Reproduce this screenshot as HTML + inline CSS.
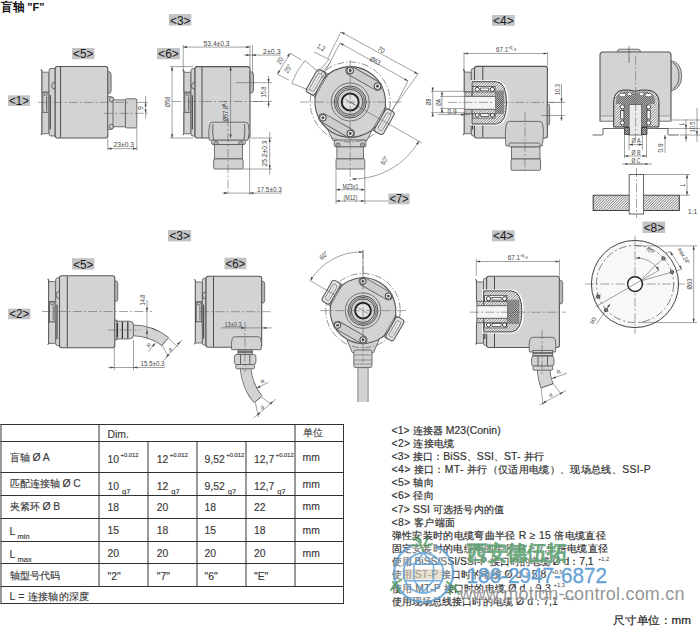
<!DOCTYPE html>
<html><head><meta charset="utf-8"><style>
html,body{margin:0;padding:0;background:#fff;width:700px;height:626px;overflow:hidden;position:relative}
</style></head><body>
<svg width="700" height="626" viewBox="0 0 700 626" style="position:absolute;left:0;top:0">
<style>
text{font-family:"Liberation Sans",sans-serif}
.b{fill:#d2d3d5;stroke:#555;stroke-width:1.1}
.g{fill:#d0d1d3;stroke:#5a5a5a;stroke-width:0.85}
.s{stroke:#555;stroke-width:0.9;fill:none}
.d{stroke:#555;stroke-width:0.55;fill:none}
.c{stroke:#666;stroke-width:0.6;stroke-dasharray:9 2.2 2 2.2;fill:none}
.h{fill:url(#hatch);stroke:#444;stroke-width:0.9}
.hd{fill:url(#hatchd);stroke:#333;stroke-width:0.8}
.w{fill:#eaeaea;stroke:#555;stroke-width:0.8}
</style>
<defs>
<pattern id="hatch" patternUnits="userSpaceOnUse" width="2.2" height="2.2">
<rect width="2.2" height="2.2" fill="#f4f4f4"/><path d="M-0.55,0.55 L0.55,-0.55 M0,2.2 L2.2,0 M1.65,2.75 L2.75,1.65" stroke="#606060" stroke-width="0.6"/></pattern>
<pattern id="hatchd" patternUnits="userSpaceOnUse" width="1.8" height="1.8">
<rect width="1.8" height="1.8" fill="#bdbdbd"/><path d="M-0.45,0.45 L0.45,-0.45 M0,1.8 L1.8,0 M1.35,2.25 L2.25,1.35" stroke="#3a3a3a" stroke-width="0.7"/></pattern>
</defs>
<text x="1" y="11" font-size="11.5" font-weight="bold" fill="#111" textLength="43.5" lengthAdjust="spacingAndGlyphs">盲轴 "F"</text>
<rect x="72" y="48" width="22.5" height="11.2" fill="#c2c3c5"/>
<text x="83.2" y="58.1" font-size="13.2" text-anchor="middle" fill="#1a1a1a" textLength="20.3" lengthAdjust="spacingAndGlyphs">&lt;5&gt;</text>
<rect x="8" y="95.3" width="22.0" height="10.7" fill="#c2c3c5"/>
<text x="19.0" y="104.9" font-size="13.2" text-anchor="middle" fill="#1a1a1a" textLength="19.8" lengthAdjust="spacingAndGlyphs">&lt;1&gt;</text>
<path d="M41,69.5 l1,1.5 V133.5 l-1,1.5" stroke="#444" stroke-width="1.1" fill="none"/>
<rect x="42" y="72.2" width="7" height="20.0" rx="1.2" class="g"/>
<rect x="42" y="112.3" width="7" height="21.4" rx="1.2" class="g"/>
<rect x="42.8" y="92.2" width="5.4" height="20.0" class="g"/>
<circle cx="45.5" cy="94.0" r="1.5" class="g"/>
<line x1="46.5" y1="96.5" x2="46.5" y2="110.8" stroke="#444" stroke-width="0.7"/>
<path d="M49,70.5 q0,-2 2,-2 h4.200000000000003 v67.5 h-4.200000000000003 q-2,0 -2,-2z" class="g"/>
<line x1="50.3" y1="95.1" x2="50.3" y2="129.4" stroke="#333" stroke-width="1"/>
<path d="M55.2,82.2 a3,3 0 0,0 0,7" class="s"/>
<path d="M55.2,68.7 q0,-2.2 2.2,-2.2 H105.6 q2.2,0 2.2,2.2 V135.8 q0,2.2 -2.2,2.2 H57.400000000000006 q-2.2,0 -2.2,-2.2Z" class="b"/>
<line x1="60.6" y1="67.0" x2="60.6" y2="137.5" stroke="#4a4a4a" stroke-width="1"/>
<path d="M107.8,71.6 h1.0 q2.3,0 2.3,3 v16.0 q0,3 -2.3,3 h-1.0z" fill="#b5b6b8" stroke="#555" stroke-width="0.8"/>
<path d="M107.8,96.7 h3 q3,0 3,3 v26.7 q0,3 -3,3 h-3z" class="g"/>
<circle cx="111.5" cy="99.5" r="2.2" class="g"/><circle cx="111.5" cy="126.5" r="2.2" class="g"/>
<rect x="113" y="99.9" width="12.4" height="26.9" class="g"/>
<rect x="125.4" y="98.8" width="11.4" height="29.1" rx="1.2" class="g"/>
<line x1="38.0" y1="102.4" x2="130.0" y2="102.4" class="c"/>
<line x1="104.0" y1="113.3" x2="147.7" y2="113.3" class="c"/>
<line x1="137.0" y1="102.4" x2="147.7" y2="102.4" class="d"/>
<line x1="145.6" y1="96.0" x2="145.6" y2="118.5" class="d"/>
<path d="M145.60,102.40 L146.70,106.20 L144.50,106.20Z" fill="#444"/>
<path d="M145.60,113.30 L144.50,109.50 L146.70,109.50Z" fill="#444"/>
<text x="142.5" y="108.0" font-size="7" text-anchor="middle" fill="#444" transform="rotate(-90 142.5 108.0)">9</text>
<line x1="107.8" y1="138.5" x2="107.8" y2="150.5" class="d"/>
<line x1="136.8" y1="128.0" x2="136.8" y2="150.5" class="d"/>
<line x1="107.8" y1="148.6" x2="136.8" y2="148.6" class="d"/>
<path d="M107.80,148.60 L111.60,147.50 L111.60,149.70Z" fill="#444"/>
<path d="M136.80,148.60 L133.00,149.70 L133.00,147.50Z" fill="#444"/>
<text x="123.8" y="147.4" font-size="7" text-anchor="middle" fill="#444" textLength="20.5" lengthAdjust="spacingAndGlyphs">23±0.3</text>
<rect x="157" y="48" width="23.0" height="11.3" fill="#c2c3c5"/>
<text x="168.5" y="58.2" font-size="13.2" text-anchor="middle" fill="#1a1a1a" textLength="20.8" lengthAdjust="spacingAndGlyphs">&lt;6&gt;</text>
<rect x="168.9" y="14.1" width="22.5" height="11.5" fill="#c2c3c5"/>
<text x="180.2" y="24.5" font-size="13.2" text-anchor="middle" fill="#1a1a1a" textLength="20.3" lengthAdjust="spacingAndGlyphs">&lt;3&gt;</text>
<path d="M183,69.6 l1,1.5 V133.5 l-1,1.5" stroke="#444" stroke-width="1.1" fill="none"/>
<rect x="184" y="72.3" width="7" height="20.0" rx="1.2" class="g"/>
<rect x="184" y="112.3" width="7" height="21.4" rx="1.2" class="g"/>
<rect x="184.8" y="92.3" width="5.4" height="20.0" class="g"/>
<circle cx="187.5" cy="94.1" r="1.5" class="g"/>
<line x1="188.5" y1="96.6" x2="188.5" y2="110.9" stroke="#444" stroke-width="0.7"/>
<path d="M191,70.6 q0,-2 2,-2 h2 v67.4 h-2 q-2,0 -2,-2z" class="g"/>
<line x1="192.3" y1="95.2" x2="192.3" y2="129.4" stroke="#333" stroke-width="1"/>
<path d="M195,82.3 a3,3 0 0,0 0,7" class="s"/>
<path d="M195,68.8 q0,-2.2 2.2,-2.2 H247.8 q2.2,0 2.2,2.2 V135.8 q0,2.2 -2.2,2.2 H197.2 q-2.2,0 -2.2,-2.2Z" class="b"/>
<line x1="202" y1="67.1" x2="202" y2="137.5" stroke="#4a4a4a" stroke-width="1"/>
<path d="M250,71.8 h1.2000000000000002 q2.3,0 2.3,3 v15.2 q0,3 -2.3,3 h-1.2000000000000002z" fill="#b5b6b8" stroke="#555" stroke-width="0.8"/>
<path d="M209.3,140.2 q-1.5,-9 0.5,-16 q0.5,-2 3,-2 h32.5 q2.5,0 3,2 q2,7 -0.3,16z" class="g"/>
<path d="M213,124 q-1,8 0.5,16 M244.5,124 q1,8 -0.5,16" class="s" stroke-width="0.6"/>
<rect x="211.5" y="140.2" width="33.8" height="4.3" rx="1.5" class="g"/>
<circle cx="216" cy="143.5" r="2.3" fill="#aaa" stroke="#555" stroke-width="0.7"/><circle cx="240.8" cy="143.5" r="2.3" fill="#aaa" stroke="#555" stroke-width="0.7"/>
<rect x="214.4" y="144.5" width="28" height="14.4" class="g"/>
<rect x="213.7" y="158.9" width="29.4" height="10.1" rx="1" class="g"/>
<line x1="172.0" y1="101.5" x2="262.0" y2="101.5" class="c"/>
<line x1="228.0" y1="118.0" x2="228.0" y2="195.0" class="c"/>
<line x1="183.2" y1="45.0" x2="183.2" y2="72.7" class="d"/>
<line x1="250.0" y1="45.0" x2="250.0" y2="67.0" class="d"/>
<line x1="252.5" y1="45.0" x2="252.5" y2="72.7" class="d"/>
<line x1="183.2" y1="47.1" x2="250.0" y2="47.1" class="d"/>
<path d="M183.20,47.10 L187.00,46.00 L187.00,48.20Z" fill="#444"/>
<path d="M250.00,47.10 L246.20,48.20 L246.20,46.00Z" fill="#444"/>
<text x="216.6" y="46.2" font-size="7" text-anchor="middle" fill="#444" textLength="26" lengthAdjust="spacingAndGlyphs">53.4±0.3</text>
<line x1="243.6" y1="55.1" x2="280.7" y2="55.1" class="d"/>
<path d="M250.00,55.10 L246.20,56.20 L246.20,54.00Z" fill="#444"/>
<path d="M252.00,55.10 L255.80,54.00 L255.80,56.20Z" fill="#444"/>
<text x="271.8" y="54.0" font-size="7" text-anchor="middle" fill="#444" textLength="17.5" lengthAdjust="spacingAndGlyphs">2±0.3</text>
<line x1="170.0" y1="66.6" x2="193.0" y2="66.6" class="d"/>
<line x1="170.0" y1="138.0" x2="193.0" y2="138.0" class="d"/>
<line x1="172.1" y1="66.6" x2="172.1" y2="138.0" class="d"/>
<path d="M172.10,66.60 L173.20,70.40 L171.00,70.40Z" fill="#444"/>
<path d="M172.10,138.00 L171.00,134.20 L173.20,134.20Z" fill="#444"/>
<text x="169.5" y="102.0" font-size="7" text-anchor="middle" fill="#444" textLength="10.5" lengthAdjust="spacingAndGlyphs" transform="rotate(-90 169.5 102.0)">Ø58</text>
<line x1="230.6" y1="66.6" x2="230.6" y2="138.0" class="d"/>
<path d="M230.60,66.60 L231.70,70.40 L229.50,70.40Z" fill="#444"/>
<path d="M230.60,138.00 L229.50,134.20 L231.70,134.20Z" fill="#444"/>
<text x="228.0" y="111.0" font-size="7" text-anchor="middle" fill="#444" textLength="21" lengthAdjust="spacingAndGlyphs" transform="rotate(-90 228.0 111.0)">Ø57.8⁰·¹</text>
<line x1="236.0" y1="82.7" x2="272.0" y2="82.7" class="d"/>
<line x1="254.0" y1="101.5" x2="272.0" y2="101.5" class="d"/>
<line x1="268.6" y1="76.0" x2="268.6" y2="108.0" class="d"/>
<path d="M268.60,82.70 L267.50,78.90 L269.70,78.90Z" fill="#444"/>
<path d="M268.60,101.50 L269.70,105.30 L267.50,105.30Z" fill="#444"/>
<text x="266.0" y="92.0" font-size="7" text-anchor="middle" fill="#444" textLength="11" lengthAdjust="spacingAndGlyphs" transform="rotate(-90 266.0 92.0)">15.8</text>
<line x1="249.6" y1="138.0" x2="272.0" y2="138.0" class="d"/>
<line x1="243.0" y1="169.0" x2="272.0" y2="169.0" class="d"/>
<line x1="269.7" y1="132.3" x2="269.7" y2="174.7" class="d"/>
<path d="M269.70,138.00 L270.80,141.80 L268.60,141.80Z" fill="#444"/>
<path d="M269.70,169.00 L268.60,165.20 L270.80,165.20Z" fill="#444"/>
<text x="267.0" y="153.5" font-size="7" text-anchor="middle" fill="#444" textLength="26" lengthAdjust="spacingAndGlyphs" transform="rotate(-90 267.0 153.5)">25.2±0.3</text>
<line x1="249.6" y1="139.0" x2="249.6" y2="195.0" class="d"/>
<line x1="222.0" y1="193.1" x2="282.0" y2="193.1" class="d"/>
<path d="M228.00,193.10 L224.20,194.20 L224.20,192.00Z" fill="#444"/>
<path d="M249.60,193.10 L253.40,192.00 L253.40,194.20Z" fill="#444"/>
<text x="269.4" y="192.0" font-size="7" text-anchor="middle" fill="#444" textLength="25" lengthAdjust="spacingAndGlyphs">17.5±0.3</text>
<path d="M326,126 H374 L367,140.5 H333z" class="g"/>
<rect x="334.3" y="140" width="31.7" height="7" rx="2" class="g"/>
<circle cx="338" cy="145" r="2.2" fill="#aaa" stroke="#555" stroke-width="0.7"/><circle cx="362.5" cy="145" r="2.2" fill="#aaa" stroke="#555" stroke-width="0.7"/>
<rect x="336.9" y="146.9" width="26.5" height="12" class="g"/>
<rect x="336" y="158.9" width="28.8" height="10.1" rx="1" class="g"/>
<circle cx="350.2" cy="102" r="40.0" fill="none" stroke="#666" stroke-width="0.7" stroke-dasharray="7 2 1.5 2"/>
<g transform="rotate(30 350.2 102)">
<path d="M320.2,89.0 L310.7,89.0 L310.7,115.0 L320.2,115.0z" fill="#d2d3d5" stroke="#666" stroke-width="0.8"/>
<path d="M380.2,89.0 L389.7,89.0 L389.7,115.0 L380.2,115.0z" fill="#d2d3d5" stroke="#666" stroke-width="0.8"/>
<circle cx="350.2" cy="102" r="35.3" class="b"/>
<rect x="305.7" y="89.0" width="10.0" height="26.0" rx="3.0" fill="#e2e3e5" stroke="#555" stroke-width="1"/>
<rect x="308.2" y="92.5" width="5.0" height="19.0" rx="2.0" fill="#eee" stroke="#666" stroke-width="0.7"/>
<line x1="310.7" y1="94.0" x2="310.7" y2="110.0" stroke="#999" stroke-width="0.6"/>
<rect x="384.7" y="89.0" width="10.0" height="26.0" rx="3.0" fill="#e2e3e5" stroke="#555" stroke-width="1"/>
<rect x="387.2" y="92.5" width="5.0" height="19.0" rx="2.0" fill="#eee" stroke="#666" stroke-width="0.7"/>
<line x1="389.7" y1="94.0" x2="389.7" y2="110.0" stroke="#999" stroke-width="0.6"/>
<line x1="317.2" y1="88.0" x2="317.2" y2="116.0" stroke="#666" stroke-width="0.7"/>
<line x1="383.2" y1="88.0" x2="383.2" y2="116.0" stroke="#666" stroke-width="0.7"/>
</g>
<line x1="350.2" y1="70.5" x2="377.5" y2="86.2" stroke="#555" stroke-width="9.6" stroke-linecap="round"/>
<line x1="350.2" y1="70.5" x2="377.5" y2="86.2" stroke="#cbccce" stroke-width="8.0" stroke-linecap="round"/>
<line x1="322.9" y1="117.8" x2="350.2" y2="133.5" stroke="#555" stroke-width="9.6" stroke-linecap="round"/>
<line x1="322.9" y1="117.8" x2="350.2" y2="133.5" stroke="#cbccce" stroke-width="8.0" stroke-linecap="round"/>
<circle cx="350.2" cy="70.5" r="3.4" fill="#e6e6e6" stroke="#3a3a3a" stroke-width="1"/>
<circle cx="350.2" cy="70.5" r="1.4" fill="#444"/>
<circle cx="377.5" cy="86.2" r="3.4" fill="#e6e6e6" stroke="#3a3a3a" stroke-width="1"/>
<circle cx="377.5" cy="86.2" r="1.4" fill="#444"/>
<circle cx="322.9" cy="117.8" r="3.4" fill="#e6e6e6" stroke="#3a3a3a" stroke-width="1"/>
<circle cx="322.9" cy="117.8" r="1.4" fill="#444"/>
<circle cx="350.2" cy="133.5" r="3.4" fill="#e6e6e6" stroke="#3a3a3a" stroke-width="1"/>
<circle cx="350.2" cy="133.5" r="1.4" fill="#444"/>
<circle cx="350.2" cy="102" r="19.0" fill="#d4d5d7" stroke="#666" stroke-width="0.9"/>
<circle cx="350.2" cy="102" r="16.0" fill="#c6c7c9" stroke="#444" stroke-width="0.9"/>
<circle cx="350.2" cy="102" r="14.3" fill="none" stroke="#555" stroke-width="0.8"/>
<circle cx="350.2" cy="102" r="12.6" fill="#d2d3d5" stroke="#444" stroke-width="0.9"/>
<circle cx="350.2" cy="102" r="8.5" fill="#e2e3e5" stroke="#222" stroke-width="1.9"/>
<line x1="345.2" y1="99.0" x2="355.2" y2="105.0" class="d"/>
<line x1="300.0" y1="102.0" x2="402.0" y2="102.0" class="c"/>
<line x1="350.2" y1="60.0" x2="350.2" y2="185.0" class="c"/>
<line x1="341.0" y1="32.0" x2="418.0" y2="74.0" class="d"/>
<path d="M341.00,32.00 L344.86,32.85 L343.81,34.78Z" fill="#444"/>
<path d="M418.00,74.00 L414.14,73.15 L415.19,71.22Z" fill="#444"/>
<line x1="340.0" y1="43.0" x2="408.0" y2="81.0" class="d"/>
<path d="M340.00,43.00 L343.86,43.88 L342.79,45.80Z" fill="#444"/>
<path d="M408.00,81.00 L404.14,80.12 L405.21,78.20Z" fill="#444"/>
<line x1="341.0" y1="32.0" x2="328.0" y2="58.0" class="d"/>
<line x1="418.0" y1="74.0" x2="392.0" y2="110.0" class="d"/>
<line x1="340.0" y1="43.0" x2="322.0" y2="78.0" class="d"/>
<line x1="408.0" y1="81.0" x2="390.0" y2="115.0" class="d"/>
<text x="380.0" y="52.0" font-size="7" text-anchor="middle" fill="#444" textLength="7" lengthAdjust="spacingAndGlyphs" transform="rotate(29 380.0 52.0)">70</text>
<text x="374.0" y="63.0" font-size="7" text-anchor="middle" fill="#444" textLength="11" lengthAdjust="spacingAndGlyphs" transform="rotate(29 374.0 63.0)">Ø63</text>
<line x1="290.0" y1="53.1" x2="277.4" y2="74.3" class="d"/>
<path d="M290.00,53.10 L288.99,56.92 L287.10,55.79Z" fill="#444"/>
<path d="M277.40,74.30 L278.41,70.48 L280.30,71.61Z" fill="#444"/>
<line x1="290.0" y1="53.1" x2="301.4" y2="60.0" class="d"/>
<line x1="277.4" y1="74.3" x2="288.9" y2="80.0" class="d"/>
<text x="282.0" y="62.0" font-size="7" text-anchor="middle" fill="#444" textLength="7" lengthAdjust="spacingAndGlyphs" transform="rotate(-59 282.0 62.0)">20</text>
<path d="M304.9,60.6 Q296,71 291.7,83.4" class="d"/>
<line x1="304.9" y1="60.6" x2="318.6" y2="72.0" class="d"/>
<line x1="291.7" y1="83.4" x2="309.4" y2="90.3" class="d"/>
<text x="290.0" y="70.0" font-size="7" text-anchor="middle" fill="#444" textLength="9" lengthAdjust="spacingAndGlyphs" transform="rotate(-59 290.0 70.0)">25°</text>
<line x1="314.0" y1="52.0" x2="330.0" y2="60.0" class="d"/>
<text x="320.0" y="49.5" font-size="7" text-anchor="middle" fill="#444" textLength="8" lengthAdjust="spacingAndGlyphs" transform="rotate(29 320.0 49.5)">1,2</text>
<line x1="318.6" y1="72.0" x2="328.9" y2="59.4" class="d"/>
<line x1="321.0" y1="74.0" x2="331.0" y2="61.5" class="d"/>
<path d="M352,179 A76,76 0 0,0 419,141" class="d"/>
<path d="M352.00,179.00 L355.80,177.90 L355.80,180.10Z" fill="#444"/>
<path d="M419.00,141.00 L418.05,144.84 L416.15,143.74Z" fill="#444"/>
<line x1="350.2" y1="102.0" x2="422.0" y2="143.0" class="d"/>
<text x="386.5" y="161.5" font-size="7" text-anchor="middle" fill="#444" textLength="9" lengthAdjust="spacingAndGlyphs" transform="rotate(-60 386.5 161.5)">60°</text>
<rect x="388.3" y="193.5" width="21.4" height="10.8" fill="#c2c3c5"/>
<text x="399.0" y="203.2" font-size="13.2" text-anchor="middle" fill="#1a1a1a" textLength="19.2" lengthAdjust="spacingAndGlyphs">&lt;7&gt;</text>
<line x1="336.0" y1="169.0" x2="336.0" y2="204.0" class="d"/>
<line x1="364.8" y1="169.0" x2="364.8" y2="204.0" class="d"/>
<line x1="336.0" y1="189.7" x2="364.8" y2="189.7" class="d"/>
<path d="M336.00,189.70 L339.80,188.60 L339.80,190.80Z" fill="#444"/>
<path d="M364.80,189.70 L361.00,190.80 L361.00,188.60Z" fill="#444"/>
<text x="350.4" y="188.6" font-size="7" text-anchor="middle" fill="#444" textLength="16" lengthAdjust="spacingAndGlyphs">M23x1</text>
<line x1="336.0" y1="201.0" x2="364.8" y2="201.0" class="d"/>
<path d="M336.00,201.00 L339.80,199.90 L339.80,202.10Z" fill="#444"/>
<path d="M364.80,201.00 L361.00,202.10 L361.00,199.90Z" fill="#444"/>
<text x="350.4" y="199.9" font-size="7" text-anchor="middle" fill="#444" textLength="14" lengthAdjust="spacingAndGlyphs">(M12)</text>
<line x1="364.8" y1="201.0" x2="388.0" y2="201.0" class="d"/>
<rect x="492" y="15" width="22.8" height="10.8" fill="#c2c3c5"/>
<text x="503.4" y="24.7" font-size="13.2" text-anchor="middle" fill="#1a1a1a" textLength="20.6" lengthAdjust="spacingAndGlyphs">&lt;4&gt;</text>
<path d="M463.3,69.4 l1,1.5 V133.5 l-1,1.5" stroke="#444" stroke-width="1.1" fill="none"/>
<rect x="464.3" y="72.1" width="7" height="20.0" rx="1.2" class="g"/>
<rect x="464.3" y="112.2" width="7" height="21.5" rx="1.2" class="g"/>
<rect x="465.1" y="92.2" width="5.4" height="20.0" class="g"/>
<circle cx="467.8" cy="94.0" r="1.5" class="g"/>
<line x1="468.8" y1="96.5" x2="468.8" y2="110.8" stroke="#444" stroke-width="0.7"/>
<path d="M471.3,70.4 q0,-2 2,-2 h1.1999999999999886 v67.6 h-1.1999999999999886 q-2,0 -2,-2z" class="g"/>
<line x1="472.6" y1="95.0" x2="472.6" y2="129.4" stroke="#333" stroke-width="1"/>
<path d="M474.5,82.2 a3,3 0 0,0 0,7" class="s"/>
<path d="M474.5,68.60000000000001 q0,-2.2 2.2,-2.2 H545.1999999999999 q2.2,0 2.2,2.2 V135.8 q0,2.2 -2.2,2.2 H476.7 q-2.2,0 -2.2,-2.2Z" class="b"/>
<line x1="482.8" y1="66.9" x2="482.8" y2="137.5" stroke="#4a4a4a" stroke-width="1"/>
<path d="M547.2,104 h0.5 q2,0 2,2.5 v16.3 q0,2.5 -2,2.5 h-0.5z" fill="#b5b6b8" stroke="#555" stroke-width="0.8"/>
<path d="M463.3,91.9 H470.5 V80.2 H496.5 q12.0,1 12.0,22.65 q0,21.15 -12.0,22.65 H470.5 V112.5 H463.3z" fill="#fff"/>
<clipPath id="cp1"><path d="M472,81.7 H496.5 q10.0,1 10.0,21.15 q0,20.15 -10.0,21.15 H472z"/></clipPath>
<path d="M472,81.7 H496.5 q10.0,1 10.0,21.15 q0,20.15 -10.0,21.15 H472z" fill="#f0f0f0"/>
<path clip-path="url(#cp1)" d="M429.70,124.00L472.00,81.70M432.30,124.00L474.60,81.70M434.90,124.00L477.20,81.70M437.50,124.00L479.80,81.70M440.10,124.00L482.40,81.70M442.70,124.00L485.00,81.70M445.30,124.00L487.60,81.70M447.90,124.00L490.20,81.70M450.50,124.00L492.80,81.70M453.10,124.00L495.40,81.70M455.70,124.00L498.00,81.70M458.30,124.00L500.60,81.70M460.90,124.00L503.20,81.70M463.50,124.00L505.80,81.70M466.10,124.00L508.40,81.70M468.70,124.00L511.00,81.70M471.30,124.00L513.60,81.70M473.90,124.00L516.20,81.70M476.50,124.00L518.80,81.70M479.10,124.00L521.40,81.70M481.70,124.00L524.00,81.70M484.30,124.00L526.60,81.70M486.90,124.00L529.20,81.70M489.50,124.00L531.80,81.70M492.10,124.00L534.40,81.70M494.70,124.00L537.00,81.70M497.30,124.00L539.60,81.70M499.90,124.00L542.20,81.70M502.50,124.00L544.80,81.70M505.10,124.00L547.40,81.70M507.70,124.00L550.00,81.70" stroke="#606060" stroke-width="0.75" fill="none"/>
<rect x="473" y="86.4" width="22.1" height="6" fill="#fff" stroke="#333" stroke-width="0.7"/>
<circle cx="477.2" cy="89.4" r="2.1" fill="#fff" stroke="#222" stroke-width="0.9"/><circle cx="492.4" cy="89.4" r="2.1" fill="#fff" stroke="#222" stroke-width="0.9"/>
<rect x="480.7" y="88.0" width="8.2" height="2.8" fill="#fff" stroke="#222" stroke-width="0.7"/>
<rect x="473" y="112" width="22.1" height="6" fill="#fff" stroke="#333" stroke-width="0.7"/>
<circle cx="477.2" cy="115" r="2.1" fill="#fff" stroke="#222" stroke-width="0.9"/><circle cx="492.4" cy="115" r="2.1" fill="#fff" stroke="#222" stroke-width="0.9"/>
<rect x="480.7" y="113.6" width="8.2" height="2.8" fill="#fff" stroke="#222" stroke-width="0.7"/>
<clipPath id="cp2"><path d="M464.8,91.9 H495.6 V96.4 H464.8z"/></clipPath>
<path d="M464.8,91.9 H495.6 V96.4 H464.8z" fill="#f0f0f0"/>
<path clip-path="url(#cp2)" d="M460.30,96.40L464.80,91.90M462.90,96.40L467.40,91.90M465.50,96.40L470.00,91.90M468.10,96.40L472.60,91.90M470.70,96.40L475.20,91.90M473.30,96.40L477.80,91.90M475.90,96.40L480.40,91.90M478.50,96.40L483.00,91.90M481.10,96.40L485.60,91.90M483.70,96.40L488.20,91.90M486.30,96.40L490.80,91.90M488.90,96.40L493.40,91.90M491.50,96.40L496.00,91.90M494.10,96.40L498.60,91.90M496.70,96.40L501.20,91.90" stroke="#606060" stroke-width="0.75" fill="none"/>
<path d="M464.8,91.9 H495.6 V96.4 H464.8z" fill="none" stroke="#333" stroke-width="0.7"/>
<clipPath id="cp3"><path d="M464.8,109.2 H495.6 V113.7 H464.8z"/></clipPath>
<path d="M464.8,109.2 H495.6 V113.7 H464.8z" fill="#f0f0f0"/>
<path clip-path="url(#cp3)" d="M460.30,113.70L464.80,109.20M462.90,113.70L467.40,109.20M465.50,113.70L470.00,109.20M468.10,113.70L472.60,109.20M470.70,113.70L475.20,109.20M473.30,113.70L477.80,109.20M475.90,113.70L480.40,109.20M478.50,113.70L483.00,109.20M481.10,113.70L485.60,109.20M483.70,113.70L488.20,109.20M486.30,113.70L490.80,109.20M488.90,113.70L493.40,109.20M491.50,113.70L496.00,109.20M494.10,113.70L498.60,109.20M496.70,113.70L501.20,109.20" stroke="#606060" stroke-width="0.75" fill="none"/>
<path d="M464.8,109.2 H495.6 V113.7 H464.8z" fill="none" stroke="#333" stroke-width="0.7"/>
<clipPath id="cp4"><path d="M495.6,90.4 H504.0 V114 H495.6z"/></clipPath>
<path d="M495.6,90.4 H504.0 V114 H495.6z" fill="#c4c4c4"/>
<path clip-path="url(#cp4)" d="M470.00,115.00L495.60,89.40M471.90,115.00L497.50,89.40M473.80,115.00L499.40,89.40M475.70,115.00L501.30,89.40M477.60,115.00L503.20,89.40M479.50,115.00L505.10,89.40M481.40,115.00L507.00,89.40M483.30,115.00L508.90,89.40M485.20,115.00L510.80,89.40M487.10,115.00L512.70,89.40M489.00,115.00L514.60,89.40M490.90,115.00L516.50,89.40M492.80,115.00L518.40,89.40M494.70,115.00L520.30,89.40M496.60,115.00L522.20,89.40M498.50,115.00L524.10,89.40M500.40,115.00L526.00,89.40M502.30,115.00L527.90,89.40M504.20,115.00L529.80,89.40M506.10,115.00L531.70,89.40M508.00,115.00L533.60,89.40" stroke="#3a3a3a" stroke-width="0.8" fill="none"/>
<path d="M472,81.7 H496.5 q10.0,1 10.0,21.15 q0,20.15 -10.0,21.15 H472z" fill="none" stroke="#333" stroke-width="0.9"/>
<rect x="464.8" y="96.4" width="30.8" height="12.8" fill="#f4f4f4" stroke="#555" stroke-width="0.7"/>
<path d="M506,145.9 q-1.5,-14 0.5,-22 q0.5,-2.5 3,-2.5 h30 q2.5,0 3,2.5 q2,8 -0.3,22z" class="g"/>
<rect x="509" y="143" width="31" height="4" rx="1.5" class="g"/>
<rect x="511.5" y="147" width="28.5" height="12" class="g"/>
<rect x="511" y="159" width="29.5" height="11.3" rx="1" class="g"/>
<line x1="500.0" y1="102.4" x2="562.0" y2="102.4" class="c"/>
<line x1="448.0" y1="102.4" x2="494.0" y2="102.4" class="c"/>
<line x1="525.0" y1="112.0" x2="525.0" y2="172.0" class="c"/>
<line x1="464.0" y1="52.0" x2="464.0" y2="72.0" class="d"/>
<line x1="547.4" y1="52.0" x2="547.4" y2="66.0" class="d"/>
<line x1="464.0" y1="53.5" x2="547.4" y2="53.5" class="d"/>
<path d="M464.00,53.50 L467.80,52.40 L467.80,54.60Z" fill="#444"/>
<path d="M547.40,53.50 L543.60,54.60 L543.60,52.40Z" fill="#444"/>
<text x="506.0" y="52.4" font-size="7" text-anchor="middle" fill="#444" textLength="20" lengthAdjust="spacingAndGlyphs">67.1⁺⁰·³</text>
<line x1="431.0" y1="91.3" x2="465.0" y2="91.3" class="d"/>
<line x1="431.0" y1="112.7" x2="465.0" y2="112.7" class="d"/>
<line x1="432.7" y1="88.0" x2="432.7" y2="116.0" class="d"/>
<path d="M432.70,91.30 L431.60,87.50 L433.80,87.50Z" fill="#444"/>
<path d="M432.70,112.70 L433.80,116.50 L431.60,116.50Z" fill="#444"/>
<text x="431.0" y="102.0" font-size="7" text-anchor="middle" fill="#444" textLength="7" lengthAdjust="spacingAndGlyphs" transform="rotate(-90 431.0 102.0)">Ø8</text>
<line x1="440.0" y1="96.4" x2="465.0" y2="96.4" class="d"/>
<line x1="440.0" y1="108.6" x2="465.0" y2="108.6" class="d"/>
<line x1="442.0" y1="93.0" x2="442.0" y2="112.0" class="d"/>
<path d="M442.00,96.40 L440.90,92.60 L443.10,92.60Z" fill="#444"/>
<path d="M442.00,108.60 L443.10,112.40 L440.90,112.40Z" fill="#444"/>
<text x="440.5" y="102.5" font-size="7" text-anchor="middle" fill="#444" textLength="7" lengthAdjust="spacingAndGlyphs" transform="rotate(-90 440.5 102.5)">ØA</text>
<line x1="438.0" y1="114.6" x2="470.0" y2="114.6" class="d"/>
<path d="M465.00,114.60 L461.20,115.70 L461.20,113.50Z" fill="#444"/>
<text x="452.0" y="113.5" font-size="7" text-anchor="middle" fill="#444" textLength="9" lengthAdjust="spacingAndGlyphs">0.9</text>
<line x1="541.0" y1="115.5" x2="565.0" y2="115.5" class="d"/>
<line x1="549.0" y1="102.4" x2="565.0" y2="102.4" class="d"/>
<line x1="561.5" y1="83.6" x2="561.5" y2="121.0" class="d"/>
<path d="M561.50,102.40 L560.40,98.60 L562.60,98.60Z" fill="#444"/>
<path d="M561.50,115.50 L562.60,119.30 L560.40,119.30Z" fill="#444"/>
<text x="559.6" y="89.5" font-size="7" text-anchor="middle" fill="#444" textLength="11" lengthAdjust="spacingAndGlyphs" transform="rotate(-90 559.6 89.5)">10.3</text>
<rect x="617.4" y="49.2" width="23" height="5" rx="2.5" class="g"/>
<path d="M671,60.7 q10.6,2 10.6,15.15 q0,13.15 -10.6,15.15z" class="g"/>
<path d="M673,63 q6,3 6,12.85 q0,10 -6,12.85" class="s" stroke-width="0.7"/>
<path d="M600,55 q0,-3 3,-3 h65 q3,0 3,3 v66 h-71z" class="b"/>
<rect x="600.5" y="116" width="70" height="5" fill="#e2e2e2" stroke="#777" stroke-width="0.6"/>
<clipPath id="cp5"><path d="M613.7,127 V100.6 q1,-9.5 9,-10.5 q6,-0.6 12.5,1.2 q6,-1.8 12.5,-1.2 q10,1 11.2,10.5 V127z"/></clipPath>
<path d="M613.7,127 V100.6 q1,-9.5 9,-10.5 q6,-0.6 12.5,1.2 q6,-1.8 12.5,-1.2 q10,1 11.2,10.5 V127z" fill="#f0f0f0"/>
<path clip-path="url(#cp5)" d="M575.70,127.00L613.70,89.00M578.30,127.00L616.30,89.00M580.90,127.00L618.90,89.00M583.50,127.00L621.50,89.00M586.10,127.00L624.10,89.00M588.70,127.00L626.70,89.00M591.30,127.00L629.30,89.00M593.90,127.00L631.90,89.00M596.50,127.00L634.50,89.00M599.10,127.00L637.10,89.00M601.70,127.00L639.70,89.00M604.30,127.00L642.30,89.00M606.90,127.00L644.90,89.00M609.50,127.00L647.50,89.00M612.10,127.00L650.10,89.00M614.70,127.00L652.70,89.00M617.30,127.00L655.30,89.00M619.90,127.00L657.90,89.00M622.50,127.00L660.50,89.00M625.10,127.00L663.10,89.00M627.70,127.00L665.70,89.00M630.30,127.00L668.30,89.00M632.90,127.00L670.90,89.00M635.50,127.00L673.50,89.00M638.10,127.00L676.10,89.00M640.70,127.00L678.70,89.00M643.30,127.00L681.30,89.00M645.90,127.00L683.90,89.00M648.50,127.00L686.50,89.00M651.10,127.00L689.10,89.00M653.70,127.00L691.70,89.00M656.30,127.00L694.30,89.00M658.90,127.00L696.90,89.00M661.50,127.00L699.50,89.00" stroke="#606060" stroke-width="0.75" fill="none"/>
<clipPath id="cp6"><path d="M616,100 q1,-7 7,-8.3 q6,-0.5 12.5,1.2 q6,-1.8 12.5,-1.2 q6,1.3 7,8.3 v4 h-7 v23 h-8 v-22 h-9 v22 h-8 v-23 h-7z"/></clipPath>
<path d="M616,100 q1,-7 7,-8.3 q6,-0.5 12.5,1.2 q6,-1.8 12.5,-1.2 q6,1.3 7,8.3 v4 h-7 v23 h-8 v-22 h-9 v22 h-8 v-23 h-7z" fill="#c4c4c4"/>
<path clip-path="url(#cp6)" d="M579.00,127.00L616.00,90.00M580.90,127.00L617.90,90.00M582.80,127.00L619.80,90.00M584.70,127.00L621.70,90.00M586.60,127.00L623.60,90.00M588.50,127.00L625.50,90.00M590.40,127.00L627.40,90.00M592.30,127.00L629.30,90.00M594.20,127.00L631.20,90.00M596.10,127.00L633.10,90.00M598.00,127.00L635.00,90.00M599.90,127.00L636.90,90.00M601.80,127.00L638.80,90.00M603.70,127.00L640.70,90.00M605.60,127.00L642.60,90.00M607.50,127.00L644.50,90.00M609.40,127.00L646.40,90.00M611.30,127.00L648.30,90.00M613.20,127.00L650.20,90.00M615.10,127.00L652.10,90.00M617.00,127.00L654.00,90.00M618.90,127.00L655.90,90.00M620.80,127.00L657.80,90.00M622.70,127.00L659.70,90.00M624.60,127.00L661.60,90.00M626.50,127.00L663.50,90.00M628.40,127.00L665.40,90.00M630.30,127.00L667.30,90.00M632.20,127.00L669.20,90.00M634.10,127.00L671.10,90.00M636.00,127.00L673.00,90.00M637.90,127.00L674.90,90.00M639.80,127.00L676.80,90.00M641.70,127.00L678.70,90.00M643.60,127.00L680.60,90.00M645.50,127.00L682.50,90.00M647.40,127.00L684.40,90.00M649.30,127.00L686.30,90.00M651.20,127.00L688.20,90.00M653.10,127.00L690.10,90.00M655.00,127.00L692.00,90.00M656.90,127.00L693.90,90.00" stroke="#3a3a3a" stroke-width="0.8" fill="none"/>
<circle cx="622.3" cy="106.9" r="2.1" fill="#fff" stroke="#222" stroke-width="0.8"/><circle cx="622.3" cy="122.9" r="2.1" fill="#fff" stroke="#222" stroke-width="0.8"/>
<rect x="620.6999999999999" y="110.5" width="3.2" height="8.5" fill="#fff" stroke="#222" stroke-width="0.7"/>
<circle cx="648.6" cy="106.9" r="2.1" fill="#fff" stroke="#222" stroke-width="0.8"/><circle cx="648.6" cy="122.9" r="2.1" fill="#fff" stroke="#222" stroke-width="0.8"/>
<rect x="647.0" y="110.5" width="3.2" height="8.5" fill="#fff" stroke="#222" stroke-width="0.7"/>
<rect x="620" y="94" width="5" height="2" fill="#fff"/>
<rect x="646" y="94" width="5" height="2" fill="#fff"/>
<rect x="628" y="93" width="3" height="2" fill="#fff"/>
<rect x="640" y="93" width="3" height="2" fill="#fff"/>
<path d="M613.7,127 V100.6 q1,-9.5 9,-10.5 q6,-0.6 12.5,1.2 q6,-1.8 12.5,-1.2 q10,1 11.2,10.5 V127z" fill="none" stroke="#333" stroke-width="1"/>
<rect x="629.1" y="104.6" width="12.6" height="30.4" class="w"/>
<clipPath id="cp7"><path d="M624.6,127.5 h4.5 v7 h-4.5z"/></clipPath>
<path d="M624.6,127.5 h4.5 v7 h-4.5z" fill="#c4c4c4"/>
<path clip-path="url(#cp7)" d="M617.60,134.50L624.60,127.50M619.50,134.50L626.50,127.50M621.40,134.50L628.40,127.50M623.30,134.50L630.30,127.50M625.20,134.50L632.20,127.50M627.10,134.50L634.10,127.50M629.00,134.50L636.00,127.50M630.90,134.50L637.90,127.50" stroke="#3a3a3a" stroke-width="0.8" fill="none"/>
<path d="M624.6,127.5 h4.5 v7 h-4.5z" fill="none" stroke="#333" stroke-width="0.9"/>
<clipPath id="cp8"><path d="M641.7,127.5 h5.2 v7 h-5.2z"/></clipPath>
<path d="M641.7,127.5 h5.2 v7 h-5.2z" fill="#c4c4c4"/>
<path clip-path="url(#cp8)" d="M634.70,134.50L641.70,127.50M636.60,134.50L643.60,127.50M638.50,134.50L645.50,127.50M640.40,134.50L647.40,127.50M642.30,134.50L649.30,127.50M644.20,134.50L651.20,127.50M646.10,134.50L653.10,127.50M648.00,134.50L655.00,127.50" stroke="#3a3a3a" stroke-width="0.8" fill="none"/>
<path d="M641.7,127.5 h5.2 v7 h-5.2z" fill="none" stroke="#333" stroke-width="0.9"/>
<path d="M592.5,135 h9.5 q1,0 1,-1 v-5.5 h21 M646.9,128.5 h21 v5.5 q0,1 1,1 h10" class="s" stroke-width="1.4"/>
<line x1="629" y1="46" x2="629" y2="63" stroke="#555" stroke-width="0.7"/>
<line x1="635.6" y1="56.0" x2="635.6" y2="140.0" class="c"/>
<line x1="629.0" y1="135.0" x2="629.0" y2="150.0" class="d"/>
<line x1="642.4" y1="135.0" x2="642.4" y2="150.0" class="d"/>
<line x1="629.0" y1="144.6" x2="642.4" y2="144.6" class="d"/>
<path d="M629.00,144.60 L632.80,143.50 L632.80,145.70Z" fill="#444"/>
<path d="M642.40,144.60 L638.60,145.70 L638.60,143.50Z" fill="#444"/>
<text x="636.0" y="143.4" font-size="7" text-anchor="middle" fill="#444" textLength="9" lengthAdjust="spacingAndGlyphs">Ø A</text>
<line x1="624.5" y1="128.0" x2="624.5" y2="158.0" class="d"/>
<line x1="646.5" y1="128.0" x2="646.5" y2="158.0" class="d"/>
<line x1="624.5" y1="156.0" x2="646.5" y2="156.0" class="d"/>
<path d="M624.50,156.00 L628.30,154.90 L628.30,157.10Z" fill="#444"/>
<path d="M646.50,156.00 L642.70,157.10 L642.70,154.90Z" fill="#444"/>
<text x="636.0" y="154.8" font-size="7" text-anchor="middle" fill="#444" textLength="9" lengthAdjust="spacingAndGlyphs">Ø B</text>
<line x1="629.2" y1="164.0" x2="643.6" y2="164.0" class="d"/>
<path d="M629.20,164.00 L625.40,165.10 L625.40,162.90Z" fill="#444"/>
<path d="M643.60,164.00 L647.40,162.90 L647.40,165.10Z" fill="#444"/>
<line x1="622.0" y1="164.0" x2="652.0" y2="164.0" class="d"/>
<text x="636.0" y="162.8" font-size="7" text-anchor="middle" fill="#444" textLength="9" lengthAdjust="spacingAndGlyphs">Ø C</text>
<clipPath id="cp9"><path d="M593.2,195.2 h86.1 v15.3 h-86.1z"/></clipPath>
<path d="M593.2,195.2 h86.1 v15.3 h-86.1z" fill="#f0f0f0"/>
<path clip-path="url(#cp9)" d="M577.90,210.50L593.20,195.20M580.50,210.50L595.80,195.20M583.10,210.50L598.40,195.20M585.70,210.50L601.00,195.20M588.30,210.50L603.60,195.20M590.90,210.50L606.20,195.20M593.50,210.50L608.80,195.20M596.10,210.50L611.40,195.20M598.70,210.50L614.00,195.20M601.30,210.50L616.60,195.20M603.90,210.50L619.20,195.20M606.50,210.50L621.80,195.20M609.10,210.50L624.40,195.20M611.70,210.50L627.00,195.20M614.30,210.50L629.60,195.20M616.90,210.50L632.20,195.20M619.50,210.50L634.80,195.20M622.10,210.50L637.40,195.20M624.70,210.50L640.00,195.20M627.30,210.50L642.60,195.20M629.90,210.50L645.20,195.20M632.50,210.50L647.80,195.20M635.10,210.50L650.40,195.20M637.70,210.50L653.00,195.20M640.30,210.50L655.60,195.20M642.90,210.50L658.20,195.20M645.50,210.50L660.80,195.20M648.10,210.50L663.40,195.20M650.70,210.50L666.00,195.20M653.30,210.50L668.60,195.20M655.90,210.50L671.20,195.20M658.50,210.50L673.80,195.20M661.10,210.50L676.40,195.20M663.70,210.50L679.00,195.20M666.30,210.50L681.60,195.20M668.90,210.50L684.20,195.20M671.50,210.50L686.80,195.20M674.10,210.50L689.40,195.20M676.70,210.50L692.00,195.20M679.30,210.50L694.60,195.20" stroke="#606060" stroke-width="0.75" fill="none"/>
<path d="M593.2,195.2 h86.1 v15.3 h-86.1z" fill="none" stroke="#444" stroke-width="1.1"/>
<rect x="629.2" y="174.5" width="14.4" height="39.5" fill="#fff" stroke="#555" stroke-width="0.9"/>
<line x1="636.5" y1="168.0" x2="636.5" y2="218.0" class="c"/>
<line x1="643.6" y1="174.5" x2="690.0" y2="174.5" class="d"/>
<line x1="679.3" y1="195.2" x2="690.0" y2="195.2" class="d"/>
<line x1="687.0" y1="174.5" x2="687.0" y2="195.2" class="d"/>
<path d="M687.00,174.50 L688.10,178.30 L685.90,178.30Z" fill="#444"/>
<path d="M687.00,195.20 L685.90,191.40 L688.10,191.40Z" fill="#444"/>
<text x="685.0" y="185.0" font-size="7" text-anchor="middle" fill="#444" textLength="3" lengthAdjust="spacingAndGlyphs" transform="rotate(-90 685.0 185.0)">L</text>
<text x="692.5" y="214.0" font-size="6.5" text-anchor="middle" fill="#444">1:1</text>
<line x1="660.0" y1="128.5" x2="700.0" y2="128.5" class="d"/>
<line x1="680.0" y1="135.0" x2="700.0" y2="135.0" class="d"/>
<line x1="686.0" y1="119.0" x2="686.0" y2="142.0" class="d"/>
<path d="M686.00,128.50 L684.90,124.70 L687.10,124.70Z" fill="#444"/>
<path d="M686.00,135.00 L687.10,138.80 L684.90,138.80Z" fill="#444"/>
<text x="684.0" y="124.0" font-size="7" text-anchor="middle" fill="#444" textLength="3" lengthAdjust="spacingAndGlyphs" transform="rotate(-90 684.0 124.0)">L</text>
<line x1="697.0" y1="108.0" x2="697.0" y2="142.0" class="d"/>
<path d="M697.00,135.00 L695.90,131.20 L698.10,131.20Z" fill="#444"/>
<line x1="672.0" y1="120.0" x2="700.0" y2="120.0" class="d"/>
<text x="695.0" y="127.0" font-size="7" text-anchor="middle" fill="#444" textLength="11" lengthAdjust="spacingAndGlyphs" transform="rotate(-90 695.0 127.0)">10.5</text>
<line x1="665.0" y1="135.0" x2="665.0" y2="153.0" class="d"/>
<path d="M665.00,135.00 L666.10,138.80 L663.90,138.80Z" fill="#444"/>
<text x="663.0" y="148.0" font-size="7" text-anchor="middle" fill="#444" textLength="9" lengthAdjust="spacingAndGlyphs" transform="rotate(-90 663.0 148.0)">0.9</text>
<rect x="72" y="258.2" width="22.3" height="11.4" fill="#c2c3c5"/>
<text x="83.2" y="268.5" font-size="13.2" text-anchor="middle" fill="#1a1a1a" textLength="20.1" lengthAdjust="spacingAndGlyphs">&lt;5&gt;</text>
<rect x="8.1" y="308.6" width="22.3" height="10.7" fill="#c2c3c5"/>
<text x="19.2" y="318.2" font-size="13.2" text-anchor="middle" fill="#1a1a1a" textLength="20.1" lengthAdjust="spacingAndGlyphs">&lt;2&gt;</text>
<path d="M131,330.3 Q150,330 165.3,341.5" fill="none" stroke="#555" stroke-width="11.4"/>
<path d="M131,330.3 Q150,330 165.3,341.5" fill="none" stroke="#d3d3d3" stroke-width="10"/>
<path d="M47.7,278.8 l1,1.5 V343.2 l-1,1.5" stroke="#444" stroke-width="1.1" fill="none"/>
<rect x="48.7" y="281.6" width="7" height="20.1" rx="1.2" class="g"/>
<rect x="48.7" y="321.8" width="7" height="21.6" rx="1.2" class="g"/>
<rect x="49.5" y="301.7" width="5.4" height="20.1" class="g"/>
<circle cx="52.2" cy="303.5" r="1.5" class="g"/>
<line x1="53.2" y1="306.0" x2="53.2" y2="320.4" stroke="#444" stroke-width="0.7"/>
<path d="M55.7,279.8 q0,-2 2,-2 h1.7999999999999972 v67.89999999999998 h-1.7999999999999972 q-2,0 -2,-2z" class="g"/>
<line x1="57.0" y1="304.6" x2="57.0" y2="339.1" stroke="#333" stroke-width="1"/>
<path d="M59.5,291.6 a3,3 0 0,0 0,7" class="s"/>
<path d="M59.5,278.0 q0,-2.2 2.2,-2.2 H112.6 q2.2,0 2.2,2.2 V345.5 q0,2.2 -2.2,2.2 H61.7 q-2.2,0 -2.2,-2.2Z" class="b"/>
<line x1="67.3" y1="276.3" x2="67.3" y2="347.2" stroke="#4a4a4a" stroke-width="1"/>
<path d="M114.8,280.8 h0.7000000000000002 q2.3,0 2.3,3 v14.7 q0,3 -2.3,3 h-0.7000000000000002z" fill="#b5b6b8" stroke="#555" stroke-width="0.8"/>
<rect x="114.8" y="320.2" width="2.2" height="19.5" class="g"/>
<path d="M117,321.2 h12.5 q4,0 4,4 v9.7 q0,4 -4,4 h-12.5z" class="g"/>
<path d="M117.5,323 V337 M122.4,321.5 V338.6 M127.8,321.5 V338.6" stroke="#333" stroke-width="1.2"/>
<line x1="42.0" y1="311.5" x2="152.0" y2="311.5" class="c"/>
<line x1="108.0" y1="330.0" x2="140.0" y2="330.0" class="c"/>
<line x1="147.0" y1="300.0" x2="147.0" y2="340.0" class="d"/>
<path d="M147.00,311.50 L145.90,307.70 L148.10,307.70Z" fill="#444"/>
<path d="M147.00,330.00 L148.10,333.80 L145.90,333.80Z" fill="#444"/>
<text x="145.0" y="300.0" font-size="7" text-anchor="middle" fill="#444" textLength="11" lengthAdjust="spacingAndGlyphs" transform="rotate(-90 145.0 300.0)">14.8</text>
<line x1="114.3" y1="348.0" x2="114.3" y2="370.0" class="d"/>
<line x1="133.5" y1="340.0" x2="133.5" y2="370.0" class="d"/>
<line x1="108.0" y1="367.5" x2="165.0" y2="367.5" class="d"/>
<path d="M114.30,367.50 L110.50,368.60 L110.50,366.40Z" fill="#444"/>
<path d="M133.50,367.50 L137.30,366.40 L137.30,368.60Z" fill="#444"/>
<text x="152.5" y="366.3" font-size="7" text-anchor="middle" fill="#444" textLength="24" lengthAdjust="spacingAndGlyphs">15.5±0.3</text>
<line x1="148.5" y1="351.5" x2="155.3" y2="343.1" class="d"/>
<path d="M155.30,343.10 L153.76,346.75 L152.05,345.36Z" fill="#444"/>
<text x="150.5" y="346.5" font-size="5.5" text-anchor="middle" fill="#444" transform="rotate(-50 150.5 346.5)">R</text>
<line x1="162.0" y1="345.0" x2="167.3" y2="355.0" class="d"/>
<line x1="168.4" y1="338.0" x2="178.0" y2="347.0" class="d"/>
<line x1="162" y1="345" x2="168.4" y2="338" stroke="#555" stroke-width="0.9"/>
<text x="171.5" y="351.0" font-size="5.5" text-anchor="middle" fill="#444" transform="rotate(-48 171.5 351.0)">d</text>
<line x1="163.5" y1="360.5" x2="182.0" y2="340.0" class="d"/>
<path d="M166.10,357.40 L167.83,353.84 L169.46,355.31Z" fill="#444"/>
<path d="M180.40,341.40 L178.67,344.96 L177.04,343.49Z" fill="#444"/>
<rect x="224.5" y="257.7" width="21.9" height="11.6" fill="#c2c3c5"/>
<text x="235.4" y="268.2" font-size="13.2" text-anchor="middle" fill="#1a1a1a" textLength="19.7" lengthAdjust="spacingAndGlyphs">&lt;6&gt;</text>
<rect x="168" y="230" width="23.1" height="11.4" fill="#c2c3c5"/>
<text x="179.6" y="240.3" font-size="13.2" text-anchor="middle" fill="#1a1a1a" textLength="20.9" lengthAdjust="spacingAndGlyphs">&lt;3&gt;</text>
<path d="M194.4,279.3 l1,1.5 V342.7 l-1,1.5" stroke="#444" stroke-width="1.1" fill="none"/>
<rect x="195.4" y="282.0" width="7" height="19.9" rx="1.2" class="g"/>
<rect x="195.4" y="321.7" width="7" height="21.3" rx="1.2" class="g"/>
<rect x="196.20000000000002" y="301.8" width="5.4" height="19.9" class="g"/>
<circle cx="198.9" cy="303.6" r="1.5" class="g"/>
<line x1="199.9" y1="306.1" x2="199.9" y2="320.3" stroke="#444" stroke-width="0.7"/>
<path d="M202.4,280.3 q0,-2 2,-2 h1.5999999999999943 v66.89999999999998 h-1.5999999999999943 q-2,0 -2,-2z" class="g"/>
<line x1="203.70000000000002" y1="304.7" x2="203.70000000000002" y2="338.7" stroke="#333" stroke-width="1"/>
<path d="M206,291.9 a3,3 0 0,0 0,7" class="s"/>
<path d="M206,278.5 q0,-2.2 2.2,-2.2 H259.5 q2.2,0 2.2,2.2 V345.0 q0,2.2 -2.2,2.2 H208.2 q-2.2,0 -2.2,-2.2Z" class="b"/>
<line x1="213.5" y1="276.8" x2="213.5" y2="346.7" stroke="#4a4a4a" stroke-width="1"/>
<path d="M261.7,281.2 h0.7000000000000002 q2.3,0 2.3,3 v16.0 q0,3 -2.3,3 h-0.7000000000000002z" fill="#b5b6b8" stroke="#555" stroke-width="0.8"/>
<path d="M245.2,366 Q247,387 258.1,399.3" fill="none" stroke="#555" stroke-width="11.4"/>
<path d="M245.2,366 Q247,387 258.1,399.3" fill="none" stroke="#d3d3d3" stroke-width="10"/>
<path d="M231.7,349.7 q-1,-7 0.5,-11 q0.5,-2 3,-2 h22.5 q2.5,0 3,2 q1.5,4 0.3,11z" class="g"/>
<rect x="238" y="350" width="14.3" height="4.4" class="g"/>
<line x1="238" y1="352" x2="252.3" y2="352" stroke="#333" stroke-width="1.2"/>
<rect x="234.4" y="354.4" width="21.5" height="10.1" rx="2.5" class="g"/>
<path d="M240.5,354.6 V364.3 M249.8,354.6 V364.3" stroke="#555" stroke-width="0.9"/>
<rect x="235.8" y="364.5" width="18.7" height="4.3" rx="1" class="g"/>
<line x1="200.0" y1="311.7" x2="272.0" y2="311.7" class="c"/>
<line x1="245.0" y1="322.0" x2="245.0" y2="372.0" class="c"/>
<line x1="221.0" y1="327.9" x2="272.0" y2="327.9" class="d"/>
<path d="M245.00,327.90 L241.20,329.00 L241.20,326.80Z" fill="#444"/>
<path d="M262.60,327.90 L266.40,326.80 L266.40,329.00Z" fill="#444"/>
<text x="233.0" y="326.7" font-size="7" text-anchor="middle" fill="#444" textLength="17" lengthAdjust="spacingAndGlyphs">13±0.3</text>
<line x1="256.7" y1="388.2" x2="268.5" y2="382.3" class="d"/>
<path d="M256.70,388.20 L259.59,385.49 L260.59,387.45Z" fill="#444"/>
<text x="263.5" y="383.0" font-size="5.5" text-anchor="middle" fill="#444" transform="rotate(-27 263.5 383.0)">R</text>
<line x1="255.2" y1="401.9" x2="261" y2="396.8" stroke="#555" stroke-width="0.9"/>
<line x1="253.5" y1="418.0" x2="276.0" y2="399.0" class="d"/>
<path d="M256.70,415.50 L258.90,412.21 L260.32,413.90Z" fill="#444"/>
<path d="M273.20,401.20 L271.00,404.49 L269.58,402.80Z" fill="#444"/>
<line x1="255.2" y1="401.9" x2="258.5" y2="417.0" class="d"/>
<line x1="261.0" y1="396.8" x2="271.0" y2="404.0" class="d"/>
<text x="263.5" y="409.0" font-size="5.5" text-anchor="middle" fill="#444" transform="rotate(-40 263.5 409.0)">d</text>
<path d="M363,366 V402" fill="none" stroke="#555" stroke-width="10.9"/>
<path d="M363,366 V402" fill="none" stroke="#d3d3d3" stroke-width="9.5"/>
<path d="M347,340 H379 L373.6,352.5 H352.3z" class="g"/>
<rect x="353.8" y="350" width="18.2" height="17.6" rx="2" class="g"/>
<line x1="354.3" y1="355" x2="371.5" y2="355" stroke="#666" stroke-width="0.6"/>
<line x1="354.3" y1="360" x2="371.5" y2="360" stroke="#666" stroke-width="0.6"/>
<line x1="354.3" y1="364" x2="371.5" y2="364" stroke="#666" stroke-width="0.6"/>
<circle cx="363" cy="310.6" r="37.2" fill="none" stroke="#666" stroke-width="0.7" stroke-dasharray="7 2 1.5 2"/>
<g transform="rotate(30 363 310.6)">
<path d="M335.1,298.5 L326.3,298.5 L326.3,322.7 L335.1,322.7z" fill="#d2d3d5" stroke="#666" stroke-width="0.8"/>
<path d="M390.9,298.5 L399.7,298.5 L399.7,322.7 L390.9,322.7z" fill="#d2d3d5" stroke="#666" stroke-width="0.8"/>
<circle cx="363" cy="310.6" r="32.8" class="b"/>
<rect x="321.6" y="298.5" width="9.3" height="24.2" rx="2.8" fill="#e2e3e5" stroke="#555" stroke-width="1"/>
<rect x="323.9" y="301.8" width="4.7" height="17.7" rx="1.9" fill="#eee" stroke="#666" stroke-width="0.7"/>
<line x1="326.3" y1="303.2" x2="326.3" y2="318.0" stroke="#999" stroke-width="0.6"/>
<rect x="395.1" y="298.5" width="9.3" height="24.2" rx="2.8" fill="#e2e3e5" stroke="#555" stroke-width="1"/>
<rect x="397.4" y="301.8" width="4.7" height="17.7" rx="1.9" fill="#eee" stroke="#666" stroke-width="0.7"/>
<line x1="399.7" y1="303.2" x2="399.7" y2="318.0" stroke="#999" stroke-width="0.6"/>
<line x1="332.3" y1="297.6" x2="332.3" y2="323.6" stroke="#666" stroke-width="0.7"/>
<line x1="393.7" y1="297.6" x2="393.7" y2="323.6" stroke="#666" stroke-width="0.7"/>
</g>
<line x1="363.0" y1="281.3" x2="388.4" y2="296.0" stroke="#555" stroke-width="8.9" stroke-linecap="round"/>
<line x1="363.0" y1="281.3" x2="388.4" y2="296.0" stroke="#cbccce" stroke-width="7.4" stroke-linecap="round"/>
<line x1="337.6" y1="325.2" x2="363.0" y2="339.9" stroke="#555" stroke-width="8.9" stroke-linecap="round"/>
<line x1="337.6" y1="325.2" x2="363.0" y2="339.9" stroke="#cbccce" stroke-width="7.4" stroke-linecap="round"/>
<circle cx="363.0" cy="281.3" r="3.2" fill="#e6e6e6" stroke="#3a3a3a" stroke-width="1"/>
<circle cx="363.0" cy="281.3" r="1.3" fill="#444"/>
<circle cx="388.4" cy="296.0" r="3.2" fill="#e6e6e6" stroke="#3a3a3a" stroke-width="1"/>
<circle cx="388.4" cy="296.0" r="1.3" fill="#444"/>
<circle cx="337.6" cy="325.2" r="3.2" fill="#e6e6e6" stroke="#3a3a3a" stroke-width="1"/>
<circle cx="337.6" cy="325.2" r="1.3" fill="#444"/>
<circle cx="363.0" cy="339.9" r="3.2" fill="#e6e6e6" stroke="#3a3a3a" stroke-width="1"/>
<circle cx="363.0" cy="339.9" r="1.3" fill="#444"/>
<circle cx="363" cy="310.6" r="17.7" fill="#d4d5d7" stroke="#666" stroke-width="0.9"/>
<circle cx="363" cy="310.6" r="14.9" fill="#c6c7c9" stroke="#444" stroke-width="0.9"/>
<circle cx="363" cy="310.6" r="13.3" fill="none" stroke="#555" stroke-width="0.8"/>
<circle cx="363" cy="310.6" r="11.7" fill="#d2d3d5" stroke="#444" stroke-width="0.9"/>
<circle cx="363" cy="310.6" r="7.9" fill="#e2e3e5" stroke="#222" stroke-width="1.9"/>
<line x1="358.4" y1="307.8" x2="367.6" y2="313.4" class="d"/>
<line x1="320.0" y1="310.6" x2="408.0" y2="310.6" class="c"/>
<line x1="363.0" y1="250.0" x2="363.0" y2="362.0" class="c"/>
<path d="M363,252 A59,59 0 0,0 310.3,280.7" class="d"/>
<path d="M363.00,252.00 L359.20,253.10 L359.20,250.90Z" fill="#444"/>
<path d="M310.30,280.70 L311.25,276.86 L313.15,277.96Z" fill="#444"/>
<line x1="363.0" y1="250.0" x2="363.0" y2="280.0" class="d"/>
<line x1="310.3" y1="280.7" x2="335.0" y2="295.0" class="d"/>
<text x="325.5" y="257.0" font-size="7" text-anchor="middle" fill="#444" textLength="9" lengthAdjust="spacingAndGlyphs" transform="rotate(-45 325.5 257.0)">60°</text>
<rect x="491.9" y="230.3" width="22.8" height="11.0" fill="#c2c3c5"/>
<text x="503.3" y="240.2" font-size="13.2" text-anchor="middle" fill="#1a1a1a" textLength="20.6" lengthAdjust="spacingAndGlyphs">&lt;4&gt;</text>
<path d="M543.5,368 Q544,378 547,386" fill="none" stroke="#555" stroke-width="13.4"/>
<path d="M543.5,368 Q544,378 547,386" fill="none" stroke="#d3d3d3" stroke-width="12"/>
<path d="M475.5,279.3 l1,1.5 V343.0 l-1,1.5" stroke="#444" stroke-width="1.1" fill="none"/>
<rect x="476.5" y="282.0" width="7" height="19.9" rx="1.2" class="g"/>
<rect x="476.5" y="321.9" width="7" height="21.4" rx="1.2" class="g"/>
<rect x="477.3" y="301.9" width="5.4" height="19.9" class="g"/>
<circle cx="480.0" cy="303.7" r="1.5" class="g"/>
<line x1="481.0" y1="306.2" x2="481.0" y2="320.4" stroke="#444" stroke-width="0.7"/>
<path d="M483.5,280.3 q0,-2 2,-2 h1.1000000000000227 v67.19999999999999 h-1.1000000000000227 q-2,0 -2,-2z" class="g"/>
<line x1="484.8" y1="304.8" x2="484.8" y2="339.0" stroke="#333" stroke-width="1"/>
<path d="M486.6,292.0 a3,3 0 0,0 0,7" class="s"/>
<path d="M486.6,278.5 q0,-2.2 2.2,-2.2 H557.1999999999999 q2.2,0 2.2,2.2 V345.3 q0,2.2 -2.2,2.2 H488.8 q-2.2,0 -2.2,-2.2Z" class="b"/>
<line x1="494.5" y1="276.8" x2="494.5" y2="347.0" stroke="#4a4a4a" stroke-width="1"/>
<path d="M559.4,280.4 h1 q2.3,0 2.3,3 v17.5 q0,3 -2.3,3 h-1z" fill="#b5b6b8" stroke="#555" stroke-width="0.8"/>
<path d="M475.3,301.2 H482.2 V289.4 H511.79999999999995 q12.0,1 12.0,22.0 q0,20.5 -12.0,22.0 H482.2 V322.4 H475.3z" fill="#fff"/>
<clipPath id="cp10"><path d="M483.7,290.9 H511.79999999999995 q10.0,1 10.0,20.5 q0,19.5 -10.0,20.5 H483.7z"/></clipPath>
<path d="M483.7,290.9 H511.79999999999995 q10.0,1 10.0,20.5 q0,19.5 -10.0,20.5 H483.7z" fill="#f0f0f0"/>
<path clip-path="url(#cp10)" d="M442.70,331.90L483.70,290.90M445.30,331.90L486.30,290.90M447.90,331.90L488.90,290.90M450.50,331.90L491.50,290.90M453.10,331.90L494.10,290.90M455.70,331.90L496.70,290.90M458.30,331.90L499.30,290.90M460.90,331.90L501.90,290.90M463.50,331.90L504.50,290.90M466.10,331.90L507.10,290.90M468.70,331.90L509.70,290.90M471.30,331.90L512.30,290.90M473.90,331.90L514.90,290.90M476.50,331.90L517.50,290.90M479.10,331.90L520.10,290.90M481.70,331.90L522.70,290.90M484.30,331.90L525.30,290.90M486.90,331.90L527.90,290.90M489.50,331.90L530.50,290.90M492.10,331.90L533.10,290.90M494.70,331.90L535.70,290.90M497.30,331.90L538.30,290.90M499.90,331.90L540.90,290.90M502.50,331.90L543.50,290.90M505.10,331.90L546.10,290.90M507.70,331.90L548.70,290.90M510.30,331.90L551.30,290.90M512.90,331.90L553.90,290.90M515.50,331.90L556.50,290.90M518.10,331.90L559.10,290.90M520.70,331.90L561.70,290.90M523.30,331.90L564.30,290.90" stroke="#606060" stroke-width="0.75" fill="none"/>
<rect x="484.7" y="295.7" width="22.2" height="6" fill="#fff" stroke="#333" stroke-width="0.7"/>
<circle cx="488.5" cy="298.7" r="2.1" fill="#fff" stroke="#222" stroke-width="0.9"/><circle cx="504.6" cy="298.7" r="2.1" fill="#fff" stroke="#222" stroke-width="0.9"/>
<rect x="492.0" y="297.3" width="9.1" height="2.8" fill="#fff" stroke="#222" stroke-width="0.7"/>
<rect x="484.7" y="321.9" width="22.2" height="6" fill="#fff" stroke="#333" stroke-width="0.7"/>
<circle cx="488.5" cy="324.9" r="2.1" fill="#fff" stroke="#222" stroke-width="0.9"/><circle cx="504.6" cy="324.9" r="2.1" fill="#fff" stroke="#222" stroke-width="0.9"/>
<rect x="492.0" y="323.5" width="9.1" height="2.8" fill="#fff" stroke="#222" stroke-width="0.7"/>
<clipPath id="cp11"><path d="M476.8,301.3 H507.4 V305.8 H476.8z"/></clipPath>
<path d="M476.8,301.3 H507.4 V305.8 H476.8z" fill="#f0f0f0"/>
<path clip-path="url(#cp11)" d="M472.30,305.80L476.80,301.30M474.90,305.80L479.40,301.30M477.50,305.80L482.00,301.30M480.10,305.80L484.60,301.30M482.70,305.80L487.20,301.30M485.30,305.80L489.80,301.30M487.90,305.80L492.40,301.30M490.50,305.80L495.00,301.30M493.10,305.80L497.60,301.30M495.70,305.80L500.20,301.30M498.30,305.80L502.80,301.30M500.90,305.80L505.40,301.30M503.50,305.80L508.00,301.30M506.10,305.80L510.60,301.30M508.70,305.80L513.20,301.30" stroke="#606060" stroke-width="0.75" fill="none"/>
<path d="M476.8,301.3 H507.4 V305.8 H476.8z" fill="none" stroke="#333" stroke-width="0.7"/>
<clipPath id="cp12"><path d="M476.8,318.2 H507.4 V322.7 H476.8z"/></clipPath>
<path d="M476.8,318.2 H507.4 V322.7 H476.8z" fill="#f0f0f0"/>
<path clip-path="url(#cp12)" d="M472.30,322.70L476.80,318.20M474.90,322.70L479.40,318.20M477.50,322.70L482.00,318.20M480.10,322.70L484.60,318.20M482.70,322.70L487.20,318.20M485.30,322.70L489.80,318.20M487.90,322.70L492.40,318.20M490.50,322.70L495.00,318.20M493.10,322.70L497.60,318.20M495.70,322.70L500.20,318.20M498.30,322.70L502.80,318.20M500.90,322.70L505.40,318.20M503.50,322.70L508.00,318.20M506.10,322.70L510.60,318.20M508.70,322.70L513.20,318.20" stroke="#606060" stroke-width="0.75" fill="none"/>
<path d="M476.8,318.2 H507.4 V322.7 H476.8z" fill="none" stroke="#333" stroke-width="0.7"/>
<clipPath id="cp13"><path d="M507.4,299.7 H519.3 V323.9 H507.4z"/></clipPath>
<path d="M507.4,299.7 H519.3 V323.9 H507.4z" fill="#c4c4c4"/>
<path clip-path="url(#cp13)" d="M481.20,324.90L507.40,298.70M483.10,324.90L509.30,298.70M485.00,324.90L511.20,298.70M486.90,324.90L513.10,298.70M488.80,324.90L515.00,298.70M490.70,324.90L516.90,298.70M492.60,324.90L518.80,298.70M494.50,324.90L520.70,298.70M496.40,324.90L522.60,298.70M498.30,324.90L524.50,298.70M500.20,324.90L526.40,298.70M502.10,324.90L528.30,298.70M504.00,324.90L530.20,298.70M505.90,324.90L532.10,298.70M507.80,324.90L534.00,298.70M509.70,324.90L535.90,298.70M511.60,324.90L537.80,298.70M513.50,324.90L539.70,298.70M515.40,324.90L541.60,298.70M517.30,324.90L543.50,298.70M519.20,324.90L545.40,298.70M521.10,324.90L547.30,298.70M523.00,324.90L549.20,298.70" stroke="#3a3a3a" stroke-width="0.8" fill="none"/>
<path d="M483.7,290.9 H511.79999999999995 q10.0,1 10.0,20.5 q0,19.5 -10.0,20.5 H483.7z" fill="none" stroke="#333" stroke-width="0.9"/>
<rect x="476.8" y="305.8" width="30.6" height="12.4" fill="#f4f4f4" stroke="#555" stroke-width="0.7"/>
<path d="M529.5,352 q-1,-9 0.5,-12.5 q0.5,-2.2 3,-2.2 h19 q2.5,0 3,2.2 q1.5,4 0.3,12.5z" class="g"/>
<rect x="532.9" y="350.4" width="19.8" height="5.2" class="g"/>
<line x1="533" y1="353" x2="552.6" y2="353" stroke="#333" stroke-width="1.2"/>
<rect x="531.6" y="356.2" width="22.4" height="10" rx="2.5" class="g"/>
<path d="M538,356.4 V366 M547.5,356.4 V366" stroke="#555" stroke-width="0.9"/>
<rect x="533" y="366" width="19.6" height="4.2" rx="1" class="g"/>
<line x1="470.0" y1="312.2" x2="566.0" y2="312.2" class="c"/>
<line x1="542.0" y1="330.0" x2="542.0" y2="375.0" class="c"/>
<line x1="476.3" y1="259.0" x2="476.3" y2="276.0" class="d"/>
<line x1="559.4" y1="259.5" x2="559.4" y2="276.0" class="d"/>
<line x1="476.3" y1="261.5" x2="559.4" y2="261.5" class="d"/>
<path d="M476.30,261.50 L480.10,260.40 L480.10,262.60Z" fill="#444"/>
<path d="M559.40,261.50 L555.60,262.60 L555.60,260.40Z" fill="#444"/>
<text x="517.7" y="259.9" font-size="7" text-anchor="middle" fill="#444" textLength="20" lengthAdjust="spacingAndGlyphs">67.1⁺⁰·³</text>
<line x1="552.0" y1="378.5" x2="567.0" y2="373.2" class="d"/>
<path d="M552.00,378.50 L555.19,376.17 L555.95,378.23Z" fill="#444"/>
<text x="559.5" y="373.5" font-size="5.5" text-anchor="middle" fill="#444" transform="rotate(-20 559.5 373.5)">R</text>
<line x1="541.2" y1="388" x2="553.3" y2="383.6" stroke="#555" stroke-width="0.9"/>
<line x1="539.5" y1="405.0" x2="566.0" y2="390.5" class="d"/>
<path d="M542.50,403.40 L545.29,400.60 L546.36,402.52Z" fill="#444"/>
<path d="M563.50,392.00 L560.71,394.80 L559.64,392.88Z" fill="#444"/>
<line x1="541.2" y1="388.0" x2="543.0" y2="405.0" class="d"/>
<line x1="553.3" y1="383.6" x2="561.0" y2="394.0" class="d"/>
<text x="551.5" y="396.5" font-size="5.5" text-anchor="middle" fill="#444" transform="rotate(-29 551.5 396.5)">d</text>
<rect x="642.5" y="221.5" width="22.7" height="11.5" fill="#c2c3c5"/>
<text x="653.9" y="231.9" font-size="13.2" text-anchor="middle" fill="#1a1a1a" textLength="20.5" lengthAdjust="spacingAndGlyphs">&lt;8&gt;</text>
<circle cx="635" cy="284" r="43.6" fill="#f8f8f8" stroke="#444" stroke-width="1"/>
<circle cx="635" cy="284" r="38.6" fill="none" stroke="#555" stroke-width="0.7" stroke-dasharray="8 2.5 2 2.5"/>
<line x1="585.0" y1="284.0" x2="685.0" y2="284.0" class="c"/>
<line x1="635.0" y1="236.0" x2="635.0" y2="334.0" class="c"/>
<circle cx="635" cy="284.1" r="7.4" fill="#fafafa" stroke="#222" stroke-width="1.4"/>
<line x1="595.6" y1="306.9" x2="640.0" y2="281.0" class="d"/>
<line x1="640.6" y1="281.0" x2="672.0" y2="272.1" class="d"/>
<line x1="640.6" y1="280.7" x2="658.9" y2="270.4" class="d"/>
<line x1="640.6" y1="280.7" x2="657.7" y2="263.0" class="d"/>
<line x1="657.7" y1="264.0" x2="663.4" y2="258.4" class="d"/>
<circle cx="663.4" cy="258.4" r="1.7" fill="#888" stroke="#333" stroke-width="0.8"/>
<circle cx="672" cy="272.1" r="1.7" fill="#888" stroke="#333" stroke-width="0.8"/>
<circle cx="598.2" cy="296.5" r="1.7" fill="#888" stroke="#333" stroke-width="0.8"/>
<circle cx="606" cy="310" r="1.7" fill="#888" stroke="#333" stroke-width="0.8"/>
<line x1="595.0" y1="299.0" x2="601.5" y2="294.0" class="d"/>
<line x1="596.0" y1="294.5" x2="600.5" y2="298.5" class="d"/>
<path d="M636,257.9 A27,27 0 0,1 658.9,270.4" class="d"/>
<path d="M636.00,257.90 L639.80,256.80 L639.80,259.00Z" fill="#444"/>
<path d="M658.90,270.40 L656.05,267.66 L657.95,266.56Z" fill="#444"/>
<text x="648.6" y="252.0" font-size="6" text-anchor="middle" fill="#444" textLength="8" lengthAdjust="spacingAndGlyphs" transform="rotate(45 648.6 252.0)">60°</text>
<line x1="635.0" y1="245.9" x2="697.0" y2="245.9" class="d"/>
<line x1="640.0" y1="322.6" x2="697.0" y2="322.6" class="d"/>
<line x1="693.7" y1="245.9" x2="693.7" y2="322.6" class="d"/>
<path d="M693.70,245.90 L694.80,249.70 L692.60,249.70Z" fill="#444"/>
<path d="M693.70,322.60 L692.60,318.80 L694.80,318.80Z" fill="#444"/>
<text x="691.6" y="284.0" font-size="7" text-anchor="middle" fill="#444" textLength="11" lengthAdjust="spacingAndGlyphs" transform="rotate(-90 691.6 284.0)">Ø63</text>
<line x1="670.3" y1="251.6" x2="681.7" y2="269.3" class="d"/>
<line x1="666.0" y1="253.0" x2="670.3" y2="251.6" class="d"/>
<line x1="676.0" y1="271.0" x2="681.7" y2="269.3" class="d"/>
<path d="M670.30,251.60 L673.15,254.34 L671.25,255.44Z" fill="#444"/>
<path d="M681.70,269.30 L678.85,266.56 L680.75,265.46Z" fill="#444"/>
<text x="682.0" y="257.0" font-size="6" text-anchor="middle" fill="#444" textLength="18" lengthAdjust="spacingAndGlyphs" transform="rotate(60 682.0 257.0)">max.24°</text>
<line x1="610.1" y1="303.7" x2="596.6" y2="324.0" class="d"/>
<path d="M610.10,303.70 L608.95,307.49 L607.11,306.29Z" fill="#444"/>
<text x="595.0" y="321.5" font-size="6" text-anchor="middle" fill="#444" textLength="7" lengthAdjust="spacingAndGlyphs" transform="rotate(-60 595.0 321.5)">M3</text>
<g stroke="#333" stroke-width="1" fill="none">
<line x1="0.5" y1="424.5" x2="344" y2="424.5"/>
<line x1="0.5" y1="441.5" x2="344" y2="441.5"/>
<line x1="0.5" y1="472.5" x2="344" y2="472.5"/>
<line x1="0.5" y1="495.5" x2="344" y2="495.5"/>
<line x1="0.5" y1="518.5" x2="344" y2="518.5"/>
<line x1="0.5" y1="541.5" x2="344" y2="541.5"/>
<line x1="0.5" y1="563.5" x2="344" y2="563.5"/>
<line x1="0.5" y1="586.5" x2="344" y2="586.5"/>
<line x1="0.5" y1="603.5" x2="344" y2="603.5"/>
<line x1="1" y1="424.0" x2="1" y2="604.0"/>
<line x1="343.5" y1="424.0" x2="343.5" y2="604.0"/>
<line x1="99" y1="424.5" x2="99" y2="586.5"/>
<line x1="295" y1="424.5" x2="295" y2="586.5"/>
<line x1="148" y1="441.5" x2="148" y2="586.5"/>
<line x1="197" y1="441.5" x2="197" y2="586.5"/>
<line x1="246" y1="441.5" x2="246" y2="586.5"/>
</g>
<text x="107.5" y="437.5" font-size="10.4" fill="#3a3a3a" stroke="#3a3a3a" stroke-width="0.15">Dim.</text>
<text x="303" y="436.3" font-size="10.4" fill="#3a3a3a" stroke="#3a3a3a" stroke-width="0.15">单位</text>
<text x="9.5" y="460.8" font-size="10.4" fill="#3a3a3a" stroke="#3a3a3a" stroke-width="0.15">盲轴 Ø A</text>
<text x="9.5" y="486.8" font-size="10.4" fill="#3a3a3a" stroke="#3a3a3a" stroke-width="0.15">匹配连接轴 Ø C</text>
<text x="9.5" y="510" font-size="10.4" fill="#3a3a3a" stroke="#3a3a3a" stroke-width="0.15">夹紧环 Ø B</text>
<text x="9.5" y="534.5" font-size="10.4" fill="#3a3a3a" stroke="#3a3a3a" stroke-width="0.15">L</text>
<text x="17.5" y="538.5" font-size="7.5" fill="#3a3a3a" stroke="#3a3a3a" stroke-width="0.15">min</text>
<text x="9.5" y="557.5" font-size="10.4" fill="#3a3a3a" stroke="#3a3a3a" stroke-width="0.15">L</text>
<text x="17.5" y="561.5" font-size="7.5" fill="#3a3a3a" stroke="#3a3a3a" stroke-width="0.15">max</text>
<text x="9.5" y="579.2" font-size="10.4" fill="#3a3a3a" stroke="#3a3a3a" stroke-width="0.15">轴型号代码</text>
<text x="9.5" y="599.5" font-size="10.4" fill="#3a3a3a" stroke="#3a3a3a" stroke-width="0.15" textLength="79.5" lengthAdjust="spacing">L = 连接轴的深度</text>
<text x="107.5" y="462.5" font-size="10.4" fill="#3a3a3a" stroke="#3a3a3a" stroke-width="0.15">10</text>
<text x="120.6" y="456.5" font-size="5.8" fill="#3a3a3a" stroke="#3a3a3a" stroke-width="0.15">+0.012</text>
<text x="107.5" y="489.5" font-size="10.4" fill="#3a3a3a" stroke="#3a3a3a" stroke-width="0.15">10</text>
<text x="122.1" y="493.5" font-size="7.5" fill="#3a3a3a" stroke="#3a3a3a" stroke-width="0.15">g7</text>
<text x="156.7" y="462.5" font-size="10.4" fill="#3a3a3a" stroke="#3a3a3a" stroke-width="0.15">12</text>
<text x="169.79999999999998" y="456.5" font-size="5.8" fill="#3a3a3a" stroke="#3a3a3a" stroke-width="0.15">+0.012</text>
<text x="156.7" y="489.5" font-size="10.4" fill="#3a3a3a" stroke="#3a3a3a" stroke-width="0.15">12</text>
<text x="171.29999999999998" y="493.5" font-size="7.5" fill="#3a3a3a" stroke="#3a3a3a" stroke-width="0.15">g7</text>
<text x="204.5" y="462.5" font-size="10.4" fill="#3a3a3a" stroke="#3a3a3a" stroke-width="0.15">9,52</text>
<text x="226.3" y="456.5" font-size="5.8" fill="#3a3a3a" stroke="#3a3a3a" stroke-width="0.15">+0.012</text>
<text x="204.5" y="489.5" font-size="10.4" fill="#3a3a3a" stroke="#3a3a3a" stroke-width="0.15">9,52</text>
<text x="227.8" y="493.5" font-size="7.5" fill="#3a3a3a" stroke="#3a3a3a" stroke-width="0.15">g7</text>
<text x="254" y="462.5" font-size="10.4" fill="#3a3a3a" stroke="#3a3a3a" stroke-width="0.15">12,7</text>
<text x="275.8" y="456.5" font-size="5.8" fill="#3a3a3a" stroke="#3a3a3a" stroke-width="0.15">+0.012</text>
<text x="254" y="489.5" font-size="10.4" fill="#3a3a3a" stroke="#3a3a3a" stroke-width="0.15">12,7</text>
<text x="277.3" y="493.5" font-size="7.5" fill="#3a3a3a" stroke="#3a3a3a" stroke-width="0.15">g7</text>
<text x="107.5" y="510.5" font-size="10.4" fill="#3a3a3a" stroke="#3a3a3a" stroke-width="0.15">18</text>
<text x="156.7" y="510.5" font-size="10.4" fill="#3a3a3a" stroke="#3a3a3a" stroke-width="0.15">20</text>
<text x="204.5" y="510.5" font-size="10.4" fill="#3a3a3a" stroke="#3a3a3a" stroke-width="0.15">18</text>
<text x="254" y="510.5" font-size="10.4" fill="#3a3a3a" stroke="#3a3a3a" stroke-width="0.15">22</text>
<text x="107.5" y="534.3" font-size="10.4" fill="#3a3a3a" stroke="#3a3a3a" stroke-width="0.15">15</text>
<text x="156.7" y="534.3" font-size="10.4" fill="#3a3a3a" stroke="#3a3a3a" stroke-width="0.15">18</text>
<text x="204.5" y="534.3" font-size="10.4" fill="#3a3a3a" stroke="#3a3a3a" stroke-width="0.15">15</text>
<text x="254" y="534.3" font-size="10.4" fill="#3a3a3a" stroke="#3a3a3a" stroke-width="0.15">18</text>
<text x="107.5" y="557" font-size="10.4" fill="#3a3a3a" stroke="#3a3a3a" stroke-width="0.15">20</text>
<text x="156.7" y="557" font-size="10.4" fill="#3a3a3a" stroke="#3a3a3a" stroke-width="0.15">20</text>
<text x="204.5" y="557" font-size="10.4" fill="#3a3a3a" stroke="#3a3a3a" stroke-width="0.15">20</text>
<text x="254" y="557" font-size="10.4" fill="#3a3a3a" stroke="#3a3a3a" stroke-width="0.15">20</text>
<text x="107.5" y="580" font-size="10.4" fill="#3a3a3a" stroke="#3a3a3a" stroke-width="0.15">"2"</text>
<text x="156.7" y="580" font-size="10.4" fill="#3a3a3a" stroke="#3a3a3a" stroke-width="0.15">"7"</text>
<text x="204.5" y="580" font-size="10.4" fill="#3a3a3a" stroke="#3a3a3a" stroke-width="0.15">"6"</text>
<text x="254" y="580" font-size="10.4" fill="#3a3a3a" stroke="#3a3a3a" stroke-width="0.15">"E"</text>
<text x="302.5" y="461" font-size="10.4" fill="#3a3a3a" stroke="#3a3a3a" stroke-width="0.15">mm</text>
<text x="302.5" y="488" font-size="10.4" fill="#3a3a3a" stroke="#3a3a3a" stroke-width="0.15">mm</text>
<text x="302.5" y="510" font-size="10.4" fill="#3a3a3a" stroke="#3a3a3a" stroke-width="0.15">mm</text>
<text x="302.5" y="534" font-size="10.4" fill="#3a3a3a" stroke="#3a3a3a" stroke-width="0.15">mm</text>
<text x="302.5" y="557" font-size="10.4" fill="#3a3a3a" stroke="#3a3a3a" stroke-width="0.15">mm</text>
<text x="391.6" y="433.7" font-size="10.4" fill="#333" stroke="#333" stroke-width="0.2" textLength="109.0" lengthAdjust="spacing">&lt;1&gt; 连接器 M23(Conin)</text>
<text x="391.6" y="446.8" font-size="10.4" fill="#333" stroke="#333" stroke-width="0.2" textLength="62.7" lengthAdjust="spacing">&lt;2&gt; 连接电缆</text>
<text x="391.6" y="460.0" font-size="10.4" fill="#333" stroke="#333" stroke-width="0.2" textLength="152.1" lengthAdjust="spacing">&lt;3&gt; 接口：BiSS、SSI、ST- 并行</text>
<text x="391.6" y="473.1" font-size="10.4" fill="#333" stroke="#333" stroke-width="0.2" textLength="259.1" lengthAdjust="spacing">&lt;4&gt; 接口：MT- 并行（仅适用电缆）、现场总线、SSI-P</text>
<text x="391.6" y="486.3" font-size="10.4" fill="#333" stroke="#333" stroke-width="0.2" textLength="42.1" lengthAdjust="spacing">&lt;5&gt; 轴向</text>
<text x="391.6" y="499.4" font-size="10.4" fill="#333" stroke="#333" stroke-width="0.2" textLength="42.1" lengthAdjust="spacing">&lt;6&gt; 径向</text>
<text x="391.6" y="512.6" font-size="10.4" fill="#333" stroke="#333" stroke-width="0.2" textLength="112.2" lengthAdjust="spacing">&lt;7&gt; SSI 可选括号内的值</text>
<text x="391.6" y="525.8" font-size="10.4" fill="#333" stroke="#333" stroke-width="0.2" textLength="63.6" lengthAdjust="spacing">&lt;8&gt; 客户端面</text>
<text x="391.6" y="538.9" font-size="10.4" fill="#333" stroke="#333" stroke-width="0.2" textLength="214.1" lengthAdjust="spacing">弹性安装时的电缆弯曲半径 R ≥ 15 倍电缆直径</text>
<text x="391.6" y="552.0" font-size="10.4" fill="#333" stroke="#333" stroke-width="0.2" textLength="216.2" lengthAdjust="spacing">固定安装时的电缆弯曲半径 R ≥ 7,5 倍电缆直径</text>
<text x="391.6" y="565.2" font-size="10.4" fill="#333" stroke="#333" stroke-width="0.2" textLength="202.0" lengthAdjust="spacing">使用 BiSS/SSI/SSI-P 接口时的电缆 Ø d：7,1</text>
<text x="597.9" y="560.7" font-size="5.8" fill="#333">+1,2</text>
<text x="391.6" y="578.4" font-size="10.4" fill="#333" stroke="#333" stroke-width="0.2" textLength="154.8" lengthAdjust="spacing">使用 ST-P 接口时的电缆 Ø d：5,8</text>
<text x="551.4" y="573.9" font-size="5.8" fill="#333">+0,9</text>
<text x="391.6" y="591.5" font-size="10.4" fill="#333" stroke="#333" stroke-width="0.2" textLength="159.1" lengthAdjust="spacing">使用 MT-P 接口时的电缆 Ø d：9,3</text>
<text x="553.6" y="587.0" font-size="5.8" fill="#333">+1,3</text>
<text x="391.6" y="604.6" font-size="10.4" fill="#333" stroke="#333" stroke-width="0.2" textLength="166.2" lengthAdjust="spacing">使用现场总线接口时的电缆 Ø d：7,1</text>
<text x="563" y="600.1" font-size="5.8" fill="#333">+1,2</text>
<text x="613.3" y="624" font-size="11" fill="#222" stroke="#222" stroke-width="0.2" textLength="77.6" lengthAdjust="spacingAndGlyphs">尺寸单位：mm</text>
<circle cx="423.5" cy="572.5" r="29.5" fill="#fff" opacity="0.3"/>
<rect x="404" y="569" width="38.4" height="10.6" fill="#d9c8ae" opacity="0.55"/>
<g opacity="0.8" fill="none" stroke="#5a9fd6">
<path d="M412,545.5 A29.5,29.5 0 1,0 436,545.8" stroke-width="2.3"/>
<circle cx="423.5" cy="573" r="20" stroke-width="1.8"/>
<path d="M423.5,553 L414,564.3 L433.5,564.3 Z M405,564.3 H442 M404,580.8 H443 M414,564.3 V580.8 M433.5,564.3 V580.8 M414,580.8 L423.5,591.5 L433.5,580.8" stroke-width="1.6"/>
</g>
<g opacity="0.75" fill="none" stroke="#4f9a5e" stroke-width="2.2" stroke-linecap="round">
<path d="M413,538 q8,3 10,13 M418,537 l3,5 M428,538 l-3,6 M412,545 l6,1 M432,544 l-6,2"/>
<path d="M391,590 q5,-8 10,-10 M393,582 l3,4 M399,592 l-1,-5"/>
<path d="M459,594 q-6,-8 -12,-12 M456,585 l-3,4 M450,594 l0,-5"/>
</g>
<text x="466.5" y="559.5" font-size="20.5" font-weight="bold" fill="#fff" stroke="#fff" stroke-width="2.5" opacity="0.4" textLength="100" lengthAdjust="spacingAndGlyphs">西安德伍拓</text>
<text x="466.5" y="583.2" font-size="21.5" font-weight="normal" fill="#fff" stroke="#fff" stroke-width="2.5" opacity="0.4" textLength="140.5" lengthAdjust="spacingAndGlyphs">186-2947-6872</text>
<text x="459.5" y="600.3" font-size="18" font-weight="normal" fill="#fff" stroke="#fff" stroke-width="2.5" opacity="0.4" textLength="225" lengthAdjust="spacingAndGlyphs">www.motion-control.com.cn</text>
<text x="466.5" y="559.5" font-size="20.5" font-weight="bold" fill="#5a9f6e" stroke="#5a9f6e" stroke-width="0.35" opacity="0.85" textLength="100" lengthAdjust="spacingAndGlyphs">西安德伍拓</text>
<text x="466.5" y="583.2" font-size="21.5" font-weight="normal" fill="#4b93d0" stroke="#4b93d0" stroke-width="0.3" opacity="0.85" textLength="140.5" lengthAdjust="spacingAndGlyphs">186-2947-6872</text>
<text x="459.5" y="600.3" font-size="18" font-weight="normal" fill="#858585" stroke="#858585" stroke-width="0" opacity="0.85" textLength="225" lengthAdjust="spacing">www.motion-control.com.cn</text>
</svg>
</body></html>
